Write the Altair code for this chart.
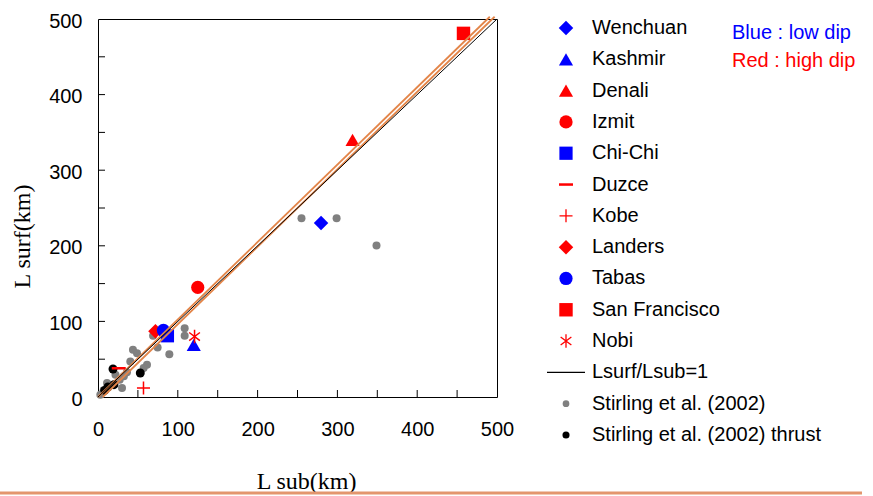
import altair as alt
import pandas as pd

# ---------------- data ----------------
event_names = ["Wenchuan", "Kashmir", "Denali", "Izmit", "Chi-Chi", "Duzce", "Kobe",
               "Landers", "Tabas", "San Francisco", "Nobi"]
event_lsub = [279.5, 120, 319, 125, 87, 26, 57, 72, 82, 458, 121]
event_lsurf = [230, 69, 340, 145, 81, 38, 12, 87, 88, 481, 80]

stirling_lsub = [255, 299, 349, 108.6, 108.6, 69, 74.7, 89.4, 43.8, 48.9, 40.5, 61.4,
                 57.2, 36.3, 27.2, 30.1, 11.3, 7.1, 2.9, 32.4, 21.9]
stirling_lsurf = [236.6, 236.6, 200.4, 91, 81, 81, 65.6, 56.4, 62.5, 58, 47, 42.7,
                  38.3, 32.6, 22.9, 11.9, 18.5, 8.8, 3.1, 27.3, 29.5]

thrust_lsub = [18.8, 53, 12.4, 8.4, 20]
thrust_lsurf = [37, 31.7, 13.2, 8.8, 16.3]

ratio_line_lsub = [0, 500]
ratio_line_lsurf = [0, 500]
band_a_lsub = [0, 491]
band_b_lsub = [6, 497]
band_lsurf = [0, 503]

tick_labels = [0, 100, 200, 300, 400, 500]
minor_ticks = [50, 100, 150, 200, 250, 300, 350, 400, 450]

legend_entries = event_names + ["Lsurf/Lsub=1", "Stirling et al. (2002)",
                                "Stirling et al. (2002) thrust"]
note_blue = "Blue : low dip"
note_red = "Red  : high dip"

# ---------------- styles ----------------
B, R, G, K = "#0000FF", "#FF0000", "#808080", "#000000"
DASH = "M-1,-0.18H1V0.18H-1Z"
LINE = "M-1,0H1"
PLUS = "M-1,0H1M0,-1V1"
STAR = "M0,-1V1M-0.8,-0.6L0.8,0.6M-0.8,0.6L0.8,-0.6"
NONE = "transparent"
shape_range = ["diamond", "triangle-up", "triangle-up", "circle", "square", DASH, PLUS,
               "diamond", "circle", "square", STAR, LINE, "circle", "circle"]
fill_range = [B, B, R, R, B, R, NONE, R, B, R, NONE, NONE, G, K]
stroke_range = [NONE, NONE, NONE, NONE, NONE, NONE, R, NONE, NONE, NONE, R, K, NONE, NONE]
size_range = [210, 200, 200, 175, 175, 196, 170, 210, 175, 180, 180, 1444, 45, 50]
ORANGE = "#E38549"

W, H = 399, 378

events = pd.DataFrame({"name": event_names, "x": event_lsub, "y": event_lsurf})
stirling = pd.DataFrame({"x": stirling_lsub, "y": stirling_lsurf})
thrust = pd.DataFrame({"x": thrust_lsub, "y": thrust_lsurf})
ratio = pd.DataFrame({"x": ratio_line_lsub, "y": ratio_line_lsurf})
band = pd.DataFrame({
    "x": band_a_lsub + band_b_lsub,
    "y": band_lsurf + band_lsurf,
    "k": ["a", "a", "b", "b"],
})
ticks = pd.DataFrame({"t": minor_ticks})
legend_df = pd.DataFrame({"name": legend_entries})

sx = alt.Scale(domain=[0, 500], nice=False, zero=False)
sy = alt.Scale(domain=[0, 500], nice=False, zero=False)
x_axis = alt.Axis(values=tick_labels, labelPadding=22, ticks=False, tickSize=0, labelFlush=False,
                  domain=False, grid=False, title="L sub(km)", titleX=208, titleY=84,
                  titleBaseline="middle", titleAlign="center")
y_axis = alt.Axis(values=tick_labels, labelPadding=16, ticks=False, tickSize=0, labelFlush=False,
                  domain=False, grid=False, labelOffset=2, title="L surf(km)",
                  titleX=-76, titleY=217, titleAngle=270, titleBaseline="middle",
                  titleAlign="center")


def X(f):
    return alt.X(f, type="quantitative", scale=sx, axis=x_axis)


def Y(f):
    return alt.Y(f, type="quantitative", scale=sy, axis=y_axis)


shape_enc = alt.Shape("name:N", scale=alt.Scale(domain=legend_entries, range=shape_range), legend=None)
fill_enc = alt.Fill("name:N", scale=alt.Scale(domain=legend_entries, range=fill_range), legend=None)
stroke_enc = alt.Stroke("name:N", scale=alt.Scale(domain=legend_entries, range=stroke_range), legend=None)
size_enc = alt.Size("name:O", scale=alt.Scale(type="ordinal", domain=legend_entries, range=size_range),
                    legend=None)

gray_layer = alt.Chart(stirling).mark_circle(size=64, color=G, opacity=1).encode(x=X("x"), y=Y("y"))
black_layer = alt.Chart(thrust).mark_circle(size=80, color=K, opacity=1).encode(x=X("x"), y=Y("y"))
event_layer = alt.Chart(events).mark_point(filled=True, opacity=1, strokeWidth=1.5).encode(
    x=X("x"), y=Y("y"), shape=shape_enc, fill=fill_enc, stroke=stroke_enc, size=size_enc)
xtick_layer = alt.Chart(ticks).mark_rule(color="black", strokeWidth=1).encode(
    x=X("t"), y=alt.value(H), y2=alt.value(H - 7))
ytick_layer = alt.Chart(ticks).mark_rule(color="black", strokeWidth=1).encode(
    y=Y("t"), x=alt.value(0), x2=alt.value(7))
band_layer = alt.Chart(band).mark_line(color=ORANGE, strokeWidth=1.8).encode(
    x=X("x"), y=Y("y"), detail="k:N")
ratio_layer = alt.Chart(ratio).mark_line(color="black", strokeWidth=1).encode(x=X("x"), y=Y("y"))

main = alt.layer(gray_layer, black_layer, event_layer, xtick_layer, ytick_layer,
                 band_layer, ratio_layer)

ly = alt.Y("name:N", scale=alt.Scale(type="point", domain=legend_entries, range=[9, 416], padding=0),
           axis=None)
leg_sym = alt.Chart(legend_df).mark_point(filled=True, opacity=1, strokeWidth=1.3).encode(
    x=alt.value(468), y=ly, shape=shape_enc, fill=fill_enc, stroke=stroke_enc, size=size_enc)
leg_txt = alt.Chart(legend_df).mark_text(align="left", baseline="middle", fontSize=20,
                                         font="Liberation Sans", color="black").encode(
    x=alt.value(494), y=ly, text="name:N")
legend = alt.layer(leg_sym, leg_txt)

notes_blue = alt.Chart(pd.DataFrame({"t": [note_blue]})).mark_text(
    align="left", baseline="middle", fontSize=20, font="Liberation Sans", color=B).encode(
    x=alt.value(634), y=alt.value(14), text="t:N")
notes_red = alt.Chart(pd.DataFrame({"t": [note_red]})).mark_text(
    align="left", baseline="middle", fontSize=20, font="Liberation Sans", color=R).encode(
    x=alt.value(634), y=alt.value(42), text="t:N")

bottom_rule = alt.Chart(pd.DataFrame({"a": [0]})).mark_rule(color="#E3966E", strokeWidth=3).encode(
    x=alt.value(-98), x2=alt.value(764), y=alt.value(474))

chart = alt.layer(main, legend, notes_blue, notes_red, bottom_rule).resolve_scale(
    y="independent"
).properties(
    width=W, height=H,
    autosize=alt.AutoSizeParams(type="none"),
    padding={"left": 98, "top": 19, "right": 873 - 98 - W, "bottom": 496 - 19 - H},
    background="white",
).configure_view(
    stroke="black", strokeWidth=1
).configure_axis(
    labelFont="Liberation Sans", labelFontSize=20, labelColor="black",
    titleFont="Liberation Serif", titleFontSize=24, titleFontWeight="normal", titleColor="black",
)

chart.save("out.html", embed_options={"renderer": "svg", "actions": False})
